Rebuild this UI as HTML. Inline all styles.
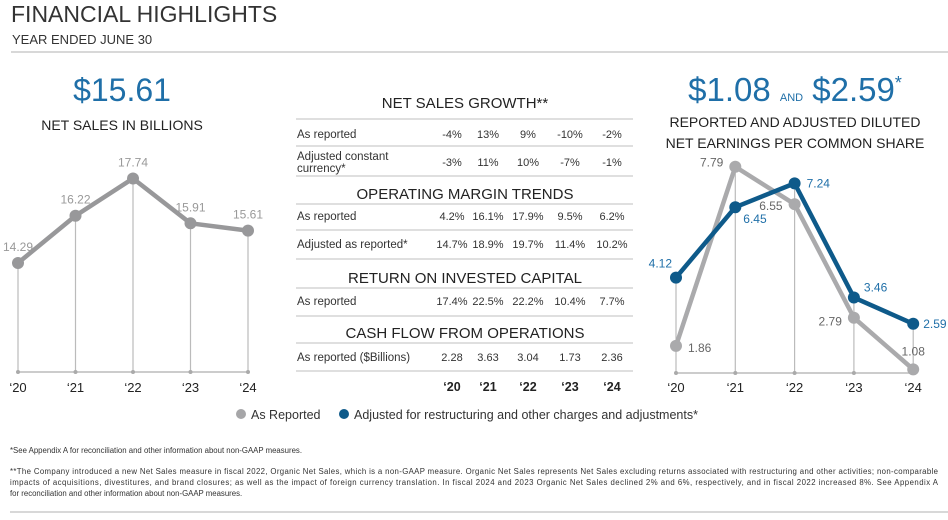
<!DOCTYPE html>
<html><head><meta charset="utf-8"><style>
body{margin:0;background:#fff;width:948px;height:520px;overflow:hidden;font-family:"Liberation Sans",sans-serif}
svg{display:block}
text{font-family:"Liberation Sans",sans-serif}
</style></head><body>
<svg id="c" width="948" height="520" viewBox="0 0 948 520">
<text x="11" y="22" font-size="23" fill="#333">FINANCIAL HIGHLIGHTS</text>
<text x="12" y="44" font-size="13" fill="#333">YEAR ENDED JUNE 30</text>
<line x1="11" y1="52" x2="948" y2="52" stroke="#ccc" stroke-width="1.5"/>
<text x="122" y="101" font-size="32" fill="#1f6fa8" text-anchor="middle">$15.61</text>
<text x="122" y="130" font-size="14" fill="#222" text-anchor="middle">NET SALES IN BILLIONS</text>
<text x="795" y="101" font-size="33" fill="#1f6fa8" text-anchor="middle">$1.08 <tspan font-size="11">AND</tspan> $2.59<tspan font-size="18" dy="-12">*</tspan></text>
<text x="795" y="127" font-size="14" fill="#222" text-anchor="middle">REPORTED AND ADJUSTED DILUTED</text>
<text x="795" y="148" font-size="14" fill="#222" text-anchor="middle">NET EARNINGS PER COMMON SHARE</text>
<g id="left"></g>
<g id="right"></g>
<g id="tbl"></g>
<g>
<circle cx="241" cy="414" r="5" fill="#a6a6a8"/>
<text x="251" y="419" font-size="12.5" fill="#333">As Reported</text>
<circle cx="344" cy="414" r="5" fill="#0e5a8a"/>
<text x="354" y="419" font-size="12.5" fill="#333">Adjusted for restructuring and other charges and adjustments*</text>
</g>
<g font-size="7.8" fill="#333">
<text x="10" y="453">*See Appendix A for reconciliation and other information about non-GAAP measures.</text>
<text x="10" y="474" textLength="928">**The Company introduced a new Net Sales measure in fiscal 2022, Organic Net Sales, which is a non-GAAP measure. Organic Net Sales represents Net Sales excluding returns associated with restructuring and other activities; non-comparable</text>
<text x="10" y="485" textLength="928">impacts of acquisitions, divestitures, and brand closures; as well as the impact of foreign currency translation. In fiscal 2024 and 2023 Organic Net Sales declined 2% and 6%, respectively, and in fiscal 2022 increased 8%. See Appendix A</text>
<text x="10" y="496">for reconciliation and other information about non-GAAP measures.</text>
</g>
<line x1="10" y1="512" x2="948" y2="512" stroke="#ccc" stroke-width="1.5"/>
</svg>
<script>
const years = ["‘20","‘21","‘22","‘23","‘24"];
const netSales = [14.29,16.22,17.74,15.91,15.61];
const epsReported = [1.86,7.79,6.55,2.79,1.08];
const epsAdjusted = [4.12,6.45,7.24,3.46,2.59];
const tableRowLabels = ["As reported","Adjusted constant currency*","As reported","Adjusted as reported*","As reported","As reported ($Billions)"];
const salesGrowthReported = ["-4%","13%","9%","-10%","-2%"];
const salesGrowthAdjusted = ["-3%","11%","10%","-7%","-1%"];
const opMarginReported = ["4.2%","16.1%","17.9%","9.5%","6.2%"];
const opMarginAdjusted = ["14.7%","18.9%","19.7%","11.4%","10.2%"];
const roicReported = ["17.4%","22.5%","22.2%","10.4%","7.7%"];
const cashFlowReported = ["2.28","3.63","3.04","1.73","2.36"];

const NS="http://www.w3.org/2000/svg";
function mk(parent,tag,attrs,txt){const e=document.createElementNS(NS,tag);for(const k in attrs)e.setAttribute(k,attrs[k]);if(txt!=null)e.textContent=txt;parent.appendChild(e);return e;}

// left chart
const L=document.getElementById('left');
const lx=i=>18+i*57.5;
const ly=v=>263-(v-14.29)*24.5;
mk(L,'line',{x1:18,y1:372,x2:248,y2:372,stroke:'#bbb','stroke-width':1.5});
netSales.forEach((v,i)=>{
 const g=mk(L,'line',{x1:lx(i),y1:ly(v),x2:lx(i),y2:372,stroke:'#bbb','stroke-width':1.2});
 
 
 mk(L,'circle',{cx:lx(i),cy:372,r:2,fill:'#aaa'});
 const t=mk(L,'text',{x:lx(i),y:392,'font-size':13,fill:'#222','text-anchor':'middle'},years[i]);
 
 
});
mk(L,'polyline',{points:netSales.map((v,i)=>lx(i)+','+ly(v)).join(' '),fill:'none',stroke:'#98989a','stroke-width':4.5,'stroke-linejoin':'round'});
netSales.forEach((v,i)=>{
 const c=mk(L,'circle',{cx:lx(i),cy:ly(v),r:6,fill:'#98989a'});
 
 
 const t=mk(L,'text',{x:lx(i),y:ly(v)-12,'font-size':12,fill:'#999','text-anchor':'middle'},v.toFixed(2));
 
 
});

// right chart
const R=document.getElementById('right');
const rx=i=>676+i*59.3;
const ry=v=>402-v*30.2;
mk(R,'line',{x1:676,y1:373,x2:913,y2:373,stroke:'#bbb','stroke-width':1.5});
years.forEach((y,i)=>{
 const top=Math.min(ry(epsReported[i]),ry(epsAdjusted[i]));
 const g=mk(R,'line',{x1:rx(i),y1:top,x2:rx(i),y2:373,stroke:'#bbb','stroke-width':1.2});
 
 
 mk(R,'circle',{cx:rx(i),cy:373,r:2,fill:'#aaa'});
 const t=mk(R,'text',{x:rx(i),y:392,'font-size':13,fill:'#222','text-anchor':'middle'},y);
 
 
});
function series(data,color,name){
 const p=mk(R,'polyline',{points:data.map((v,i)=>rx(i)+','+ry(v)).join(' '),fill:'none',stroke:color,'stroke-width':4.5,'stroke-linejoin':'round'});
 
 
 data.forEach((v,i)=>{
  const c=mk(R,'circle',{cx:rx(i),cy:ry(v),r:6,fill:color});
  
  
 });
}
series(epsReported,'#aaaaac','eps-reported');
series(epsAdjusted,'#0e5a8a','eps-adjusted');
const repOff=[[12,6,'start'],[-12,0,'end'],[-12,6,'end'],[-12,8,'end'],[0,-14,'middle']];
const adjOff=[[-4,-10,'end'],[8,16,'start'],[12,4,'start'],[10,-6,'start'],[10,4,'start']];
epsReported.forEach((v,i)=>{
 const t=mk(R,'text',{x:rx(i)+repOff[i][0],y:ry(v)+repOff[i][1],'font-size':12,fill:'#666','text-anchor':repOff[i][2]},v.toFixed(2));
 
 
});
epsAdjusted.forEach((v,i)=>{
 const t=mk(R,'text',{x:rx(i)+adjOff[i][0],y:ry(v)+adjOff[i][1],'font-size':12,fill:'#1f6fa8','text-anchor':adjOff[i][2]},v.toFixed(2));
 
 
});

// table
const T=document.getElementById('tbl');
const cx=[452,488,528,570,612];
function hline(y){mk(T,'line',{x1:296,y1:y,x2:633,y2:y,stroke:'#ccc','stroke-width':1.3});}
function heading(txt,y,name){const t=mk(T,'text',{x:465,y:y,'font-size':15,fill:'#222','text-anchor':'middle'},txt);}
function row(label,vals,y,name){
 const t=mk(T,'text',{x:297,y:y,'font-size':11.5,fill:'#333'},label);
 
 
 vals.forEach((v,i)=>{const c=mk(T,'text',{x:cx[i],y:y,'font-size':11,fill:'#333','text-anchor':'middle'},v);
 
 });
}
heading('NET SALES GROWTH**',108,'net-sales-growth-heading');
hline(119);row(tableRowLabels[0],salesGrowthReported,138,'sales-growth-reported');
hline(146);
mk(T,'text',{x:297,y:160,'font-size':11.5,fill:'#333'},'Adjusted constant');
mk(T,'text',{x:297,y:172,'font-size':11.5,fill:'#333'},'currency*');
salesGrowthAdjusted.forEach((v,i)=>{const c=mk(T,'text',{x:cx[i],y:166,'font-size':11,fill:'#333','text-anchor':'middle'},v);
 
 });
hline(176);
heading('OPERATING MARGIN TRENDS',199,'operating-margin-heading');
hline(204);row(tableRowLabels[2],opMarginReported,220,'op-margin-reported');
hline(230);row(tableRowLabels[3],opMarginAdjusted,248,'op-margin-adjusted');
hline(259);
heading('RETURN ON INVESTED CAPITAL',283,'roic-heading');
hline(288);row(tableRowLabels[4],roicReported,305,'roic-reported');
hline(316);
heading('CASH FLOW FROM OPERATIONS',338,'cash-flow-heading');
hline(343);row(tableRowLabels[5],cashFlowReported,361,'cash-flow-reported');
hline(371);
years.forEach((y,i)=>{const t=mk(T,'text',{x:cx[i],y:391,'font-size':12.5,'font-weight':'bold',fill:'#222','text-anchor':'middle'},y);
 
 });
</script>
</body></html>
